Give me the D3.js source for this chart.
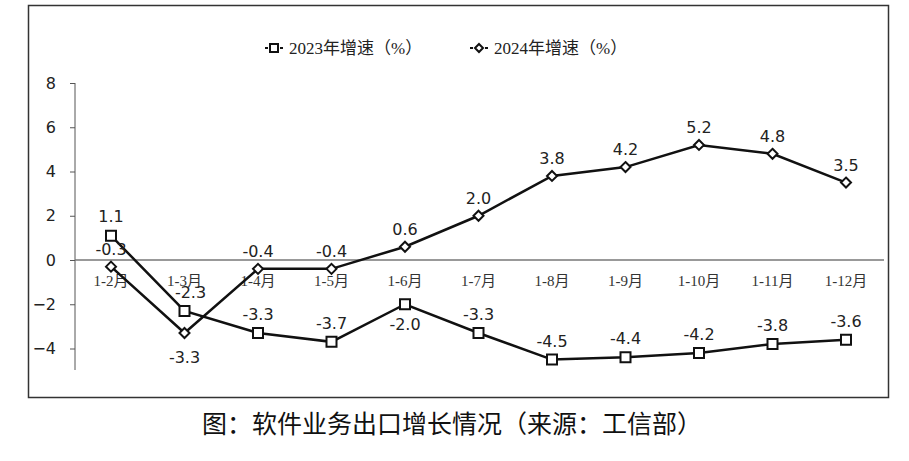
<!DOCTYPE html>
<html><head><meta charset="utf-8">
<script src="https://cdn.jsdelivr.net/npm/d3@7"></script>
<style>body{margin:0;background:#fff}</style>
</head><body>
<svg id="chart" width="909" height="461"></svg>
<script>
const months = ["1-2月","1-3月","1-4月","1-5月","1-6月","1-7月","1-8月","1-9月","1-10月","1-11月","1-12月"];
const growth2023 = [1.1, -2.3, -3.3, -3.7, -2.0, -3.3, -4.5, -4.4, -4.2, -3.8, -3.6];
const growth2024 = [-0.3, -3.3, -0.4, -0.4, 0.6, 2.0, 3.8, 4.2, 5.2, 4.8, 3.5];
const yTicks = [-4, -2, 0, 2, 4, 6, 8];

const svg = d3.select("#chart");
const serif = "'Liberation Serif','Noto Sans CJK SC',serif";
const sans = "'DejaVu Sans','Noto Sans CJK SC',sans-serif";

// frame
svg.append("rect").attr("x", 28.5).attr("y", 5.5).attr("width", 860).attr("height", 392)
    .attr("fill", "none").attr("stroke", "#333").attr("stroke-width", 1.5);

const x = d3.scalePoint().domain(months).range([111, 846]);
const y = d3.scaleLinear().domain([-4, 8]).range([348.5, 83]);

// y axis
const yAxis = svg.append("g").attr("transform", "translate(75,0)")
    .call(d3.axisLeft(y).tickValues(yTicks).tickSize(5).tickPadding(14));
yAxis.select(".domain").attr("d", "M0," + y(8) + "V370").attr("stroke", "#555");
yAxis.selectAll("line").attr("stroke", "#555");
yAxis.selectAll("text").attr("font-family", sans).attr("font-size", 16).attr("fill", "#222");

// zero line
svg.append("line").attr("x1", 75).attr("x2", 884).attr("y1", y(0)).attr("y2", y(0))
    .attr("stroke", "#777").attr("stroke-width", 1.5);

// x labels
svg.selectAll(".xl").data(months).enter().append("text")
    .attr("x", d => x(d)).attr("y", y(0) + 26).attr("text-anchor", "middle")
    .attr("font-family", serif).attr("font-size", 15).attr("fill", "#333").text(d => d);

const line = d3.line().x((d, i) => x(months[i])).y(d => y(d));

function series(data, shape, labelDy) {
    svg.append("path").datum(data).attr("d", line).attr("fill", "none")
        .attr("stroke", "#111").attr("stroke-width", 2.5);
    svg.selectAll(null).data(data).enter().append("path")
        .attr("transform", (d, i) => "translate(" + x(months[i]) + "," + y(d) + ")")
        .attr("d", shape === "square" ? "M-5,-5H5V5H-5Z" : "M0,-5L5,0L0,5L-5,0Z")
        .attr("fill", "#fff").attr("stroke", "#111").attr("stroke-width", 2);
    svg.selectAll(null).data(data).enter().append("text")
        .attr("x", (d, i) => x(months[i]) + (shape === "square" && i === 1 ? 6 : 0))
        .attr("y", (d, i) => y(d) + labelDy(d, i))
        .attr("text-anchor", "middle").attr("font-family", sans).attr("font-size", 16)
        .attr("fill", "#222").text(d => d.toFixed(1));
}
series(growth2023, "square", (d, i) => i === 0 ? -14 : (i === 4 ? 26 : -13));
series(growth2024, "diamond", (d, i) => i === 1 ? 30 : -12);

// legend
const lg = svg.append("g").attr("font-family", serif).attr("font-size", 17).attr("fill", "#222");
[[265, "square", "2023年增速（%）"], [470, "diamond", "2024年增速（%）"]].forEach(([lx, s, t]) => {
    lg.append("line").attr("x1", lx).attr("x2", lx + 18).attr("y1", 48).attr("y2", 48)
        .attr("stroke", "#111").attr("stroke-width", 2).attr("stroke-dasharray", "3,2");
    lg.append("path").attr("transform", "translate(" + (lx + 9) + ",48)")
        .attr("d", s === "square" ? "M-4,-4H4V4H-4Z" : "M0,-4L4,0L0,4L-4,0Z")
        .attr("fill", "#fff").attr("stroke", "#111").attr("stroke-width", 2);
    lg.append("text").attr("x", lx + 24).attr("y", 54).text(t);
});

// caption
svg.append("text").attr("x", 452).attr("y", 433).attr("text-anchor", "middle")
    .attr("font-family", "'Noto Sans CJK SC',sans-serif").attr("font-size", 25).attr("fill", "#111")
    .text("图：软件业务出口增长情况（来源：工信部）");
</script>
</body></html>
